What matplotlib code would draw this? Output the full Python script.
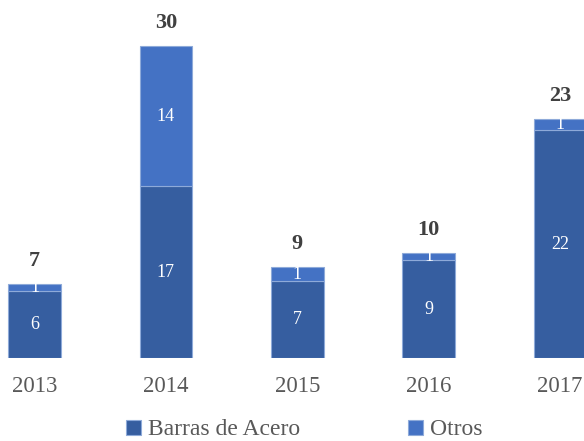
import matplotlib.pyplot as plt
import matplotlib as mp
import numpy as np

mp.rcParams['font.family'] = ['Liberation Serif', 'DejaVu Serif']

years = ['2013', '2014', '2015', '2016', '2017']
# bar heights (labels are the rounded figures)
barras = [6.4, 16.5, 7.4, 9.4, 21.9]
otros = [0.74, 13.5, 1.35, 0.74, 1.1]
barras_lbl = ['6', '17', '7', '9', '22']
otros_lbl = ['1', '14', '1', '1', '1']
total_lbl = ['7', '30', '9', '10', '23']

c_dark = '#365ea0'
c_light = '#4472c4'
c_edge = '#8eaad9'

fig = plt.figure(figsize=(5.84, 4.41), dpi=100)
ax = fig.add_axes((0.0, 0.1882, 1.0, 0.8118))

x = np.arange(len(years))
b1 = ax.bar(x, barras, 0.4, color=c_dark, edgecolor=c_edge, linewidth=0.8,
            label='Barras de Acero')
b2 = ax.bar(x, otros, 0.4, bottom=barras, color=c_light, edgecolor=c_edge,
            linewidth=0.8, label='Otros')

for i in range(len(years)):
    ax.text(x[i], barras[i] / 2, barras_lbl[i], ha='center', va='center',
            color='white', fontsize=13)
    ax.text(x[i], barras[i] + otros[i] / 2, otros_lbl[i], ha='center',
            va='center', color='white', fontsize=13)
    ax.annotate(total_lbl[i], (x[i], barras[i] + otros[i]),
                xytext=(0, 9), textcoords='offset points', ha='center',
                va='bottom', fontsize=16, fontweight='bold', color='#404040')

ax.set_xlim(-0.2626, 4.182)
ax.set_ylim(0, 34.42)
ax.set_xticks(x)
ax.set_xticklabels(years, fontsize=16.5, color='#595959')
ax.tick_params(axis='x', length=0, pad=13)
ax.set_yticks([])
for s in ax.spines.values():
    s.set_visible(False)
ax.patch.set_visible(False)

fig.legend(handles=[b1, b2], loc='center', bbox_to_anchor=(0.521, 0.025),
           ncol=2, frameon=False, fontsize=17, labelcolor='#595959',
           handlelength=0.6, handleheight=0.6, handletextpad=0.3,
           columnspacing=4.6)

fig.savefig('out.png', dpi=100)
